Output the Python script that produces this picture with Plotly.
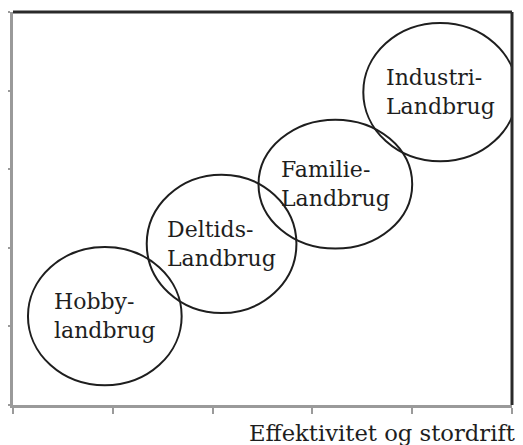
import plotly.graph_objects as go

# Data (axis units 0..5, no tick labels)
labels = ["Hobby-<br>landbrug", "Deltids-<br>Landbrug", "Familie-<br>Landbrug", "Industri-<br>Landbrug"]
center_x = [0.92, 2.09, 3.23, 4.28]
center_y = [1.13, 2.05, 2.81, 3.98]
radius_x = [0.77, 0.75, 0.77, 0.77]
radius_y = [0.88, 0.88, 0.82, 0.88]
tick_vals = [0, 1, 2, 3, 4, 5]
x_title = "Effektivitet og stordrift"

FONT = "DejaVu Serif"
INK = "#1e1e1e"
GRAY = "#9a9a9a"

fig = go.Figure()
fig.add_trace(go.Scatter(x=center_x, y=center_y, mode="markers",
                         marker=dict(size=1, opacity=0), hoverinfo="skip", showlegend=False))

shapes = []
for cx, cy, rx, ry in zip(center_x, center_y, radius_x, radius_y):
    shapes.append(dict(type="circle", xref="x", yref="y",
                       x0=cx - rx, x1=cx + rx, y0=cy - ry, y1=cy + ry,
                       line=dict(color=INK, width=2), fillcolor="rgba(0,0,0,0)", layer="above"))
# top and right frame (dark)
shapes.append(dict(type="line", xref="paper", yref="paper", x0=0, x1=1, y0=1, y1=1,
                   line=dict(color="#2a2a2a", width=3)))
shapes.append(dict(type="line", xref="paper", yref="paper", x0=1, x1=1, y0=0, y1=1,
                   line=dict(color="#2a2a2a", width=3)))

annotations = []
for lab, cx, cy in zip(labels, center_x, center_y):
    annotations.append(dict(x=cx, y=cy, xref="x", yref="y", text=lab, showarrow=False,
                            align="left", xanchor="center", yanchor="middle",
                            font=dict(family=FONT, size=22, color=INK)))
annotations.append(dict(x=1.01, y=-0.071, xref="paper", yref="paper", text=x_title,
                        showarrow=False, xanchor="right", yanchor="middle",
                        font=dict(family=FONT, size=22.7, color=INK)))

# page body has an 8px default margin: figure is sized/offset to compensate
fig.update_layout(
    width=515, height=437,
    margin=dict(l=5, r=11, t=4, b=40),
    paper_bgcolor="white", plot_bgcolor="white",
    shapes=shapes, annotations=annotations,
    xaxis=dict(range=[0, 5], tickvals=tick_vals, showticklabels=False, showgrid=False,
               zeroline=False, showline=True, linecolor=GRAY, linewidth=2.5, automargin=False,
               ticks="outside", ticklen=6, tickwidth=2, tickcolor=GRAY, fixedrange=True),
    yaxis=dict(range=[0, 5], tickvals=tick_vals, showticklabels=False, showgrid=False,
               zeroline=False, showline=True, linecolor=GRAY, linewidth=2.5, automargin=False,
               ticks="outside", ticklen=6, tickwidth=2, tickcolor=GRAY, fixedrange=True),
)

fig.write_html("out.html")
